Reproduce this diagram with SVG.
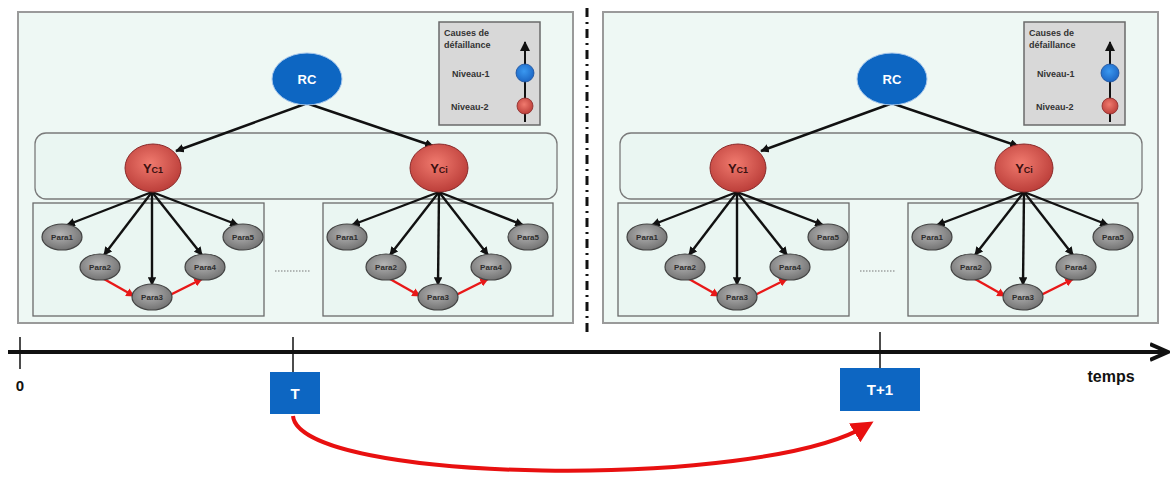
<svg xmlns="http://www.w3.org/2000/svg" width="1171" height="484" viewBox="0 0 1171 484">
<style>
.panel{fill:#eef8f4;stroke:#9a9a9a;stroke-width:2}
.ybox{fill:#eaf6f2;stroke:#7a7a7a;stroke-width:1.3}
.pbox{fill:#eaf6f2;stroke:#6a6a6a;stroke-width:1.3}
.rc{fill:#0d66c2;stroke:#a8c8ec;stroke-width:1}
.yn{fill:url(#gr);stroke:#8a2a2a;stroke-width:1}
.pn{fill:url(#gg);stroke:#444;stroke-width:1.2}
.edge{stroke:#111;stroke-width:2.4;fill:none;marker-end:url(#ah)}
.redge{stroke:#e81818;stroke-width:2.4;fill:none;marker-end:url(#rh)}
.t{font-family:"Liberation Sans",Arial,sans-serif;font-weight:bold}
.pt{font-family:"Liberation Sans",Arial,sans-serif;font-size:8px;font-weight:bold;fill:#2e2e2e;text-anchor:middle}
.leg{fill:#d8d8d8;stroke:#6a6a6a;stroke-width:1.5}
.lt{font-family:"Liberation Sans",Arial,sans-serif;font-size:9px;font-weight:bold;fill:#333}
.dots{stroke:#777;stroke-width:1;stroke-dasharray:1.5 1.5}
</style>
<defs>
<radialGradient id="gr" cx="0.45" cy="0.4" r="0.65"><stop offset="0" stop-color="#f07a6e"/><stop offset="1" stop-color="#b83a36"/></radialGradient>
<radialGradient id="gg" cx="0.45" cy="0.4" r="0.65"><stop offset="0" stop-color="#b4b4b4"/><stop offset="1" stop-color="#6e6e6e"/></radialGradient>
<radialGradient id="gb" cx="0.45" cy="0.4" r="0.65"><stop offset="0" stop-color="#3a98f0"/><stop offset="1" stop-color="#1a62c0"/></radialGradient>
<marker id="ah" viewBox="0 0 10 10" refX="9" refY="5" markerWidth="3.6" markerHeight="3.6" orient="auto"><path d="M0,0 L10,5 L0,10 z" fill="#111"/></marker>
<marker id="lg" viewBox="0 0 10 10" refX="9" refY="5" markerWidth="5" markerHeight="5" orient="auto"><path d="M0,0 L10,5 L0,10 z" fill="#111"/></marker>
<marker id="rh" viewBox="0 0 10 10" refX="9" refY="5" markerWidth="3.6" markerHeight="3.6" orient="auto"><path d="M0,0 L10,5 L0,10 z" fill="#e81818"/></marker>
<marker id="big" viewBox="0 0 10 10" refX="6" refY="5" markerWidth="5.5" markerHeight="5.5" orient="auto"><path d="M0,0 L10,5 L0,10 z" fill="#e81010"/></marker>
<marker id="lah" viewBox="0 0 10 10" refX="8" refY="5" markerWidth="5" markerHeight="5" orient="auto"><path d="M0,1 L9,5 L0,9" fill="none" stroke="#111" stroke-width="2"/></marker>
</defs>

<rect x="0" y="0" width="1171" height="484" fill="#ffffff"/>

<g id="panel-T">
<rect class="panel" x="18" y="12" width="555" height="311"/>
<rect class="ybox" x="35" y="133" width="522" height="66" rx="11"/>
<rect class="pbox" x="33" y="203" width="231" height="113"/>
<rect class="pbox" x="323" y="203" width="230" height="113"/>
<line class="dots" x1="275" y1="271" x2="310" y2="271"/>
</g>
<g id="panel-T1">
<rect class="panel" x="603" y="12" width="555" height="311"/>
<rect class="ybox" x="620" y="133" width="522" height="66" rx="11"/>
<rect class="pbox" x="618" y="203" width="231" height="113"/>
<rect class="pbox" x="908" y="203" width="230" height="113"/>
<line class="dots" x1="860" y1="271" x2="895" y2="271"/>
</g>

<g id="divider"><line x1="587" y1="8" x2="587" y2="332" stroke="#111" stroke-width="3" stroke-dasharray="9 5 2 5"/></g>

<g id="connectors">
<g id="conn-T">
<line class="edge" x1="305" y1="104" x2="176" y2="151"/>
<line class="edge" x1="309" y1="104" x2="433" y2="146"/>
<line class="edge" x1="152" y1="192" x2="67" y2="225"/>
<line class="edge" x1="152" y1="192" x2="104" y2="255"/>
<line class="edge" x1="152" y1="192" x2="152" y2="285"/>
<line class="edge" x1="152" y1="192" x2="202" y2="255"/>
<line class="edge" x1="152" y1="192" x2="238" y2="225"/>
<line class="redge" x1="104" y1="279" x2="134" y2="296"/>
<line class="redge" x1="170" y1="295" x2="202" y2="279"/>
<line class="edge" x1="439" y1="192" x2="352" y2="225"/>
<line class="edge" x1="439" y1="192" x2="390" y2="255"/>
<line class="edge" x1="439" y1="192" x2="438" y2="285"/>
<line class="edge" x1="439" y1="192" x2="488" y2="255"/>
<line class="edge" x1="439" y1="192" x2="523" y2="225"/>
<line class="redge" x1="390" y1="279" x2="420" y2="296"/>
<line class="redge" x1="456" y1="295" x2="488" y2="279"/>
</g>
<g id="conn-T1" transform="translate(585,0)">
<line class="edge" x1="305" y1="104" x2="176" y2="151"/>
<line class="edge" x1="309" y1="104" x2="433" y2="146"/>
<line class="edge" x1="152" y1="192" x2="67" y2="225"/>
<line class="edge" x1="152" y1="192" x2="104" y2="255"/>
<line class="edge" x1="152" y1="192" x2="152" y2="285"/>
<line class="edge" x1="152" y1="192" x2="202" y2="255"/>
<line class="edge" x1="152" y1="192" x2="238" y2="225"/>
<line class="redge" x1="104" y1="279" x2="134" y2="296"/>
<line class="redge" x1="170" y1="295" x2="202" y2="279"/>
<line class="edge" x1="439" y1="192" x2="352" y2="225"/>
<line class="edge" x1="439" y1="192" x2="390" y2="255"/>
<line class="edge" x1="439" y1="192" x2="438" y2="285"/>
<line class="edge" x1="439" y1="192" x2="488" y2="255"/>
<line class="edge" x1="439" y1="192" x2="523" y2="225"/>
<line class="redge" x1="390" y1="279" x2="420" y2="296"/>
<line class="redge" x1="456" y1="295" x2="488" y2="279"/>
</g>
<g id="timeline">
<line x1="8" y1="352" x2="1166" y2="352" stroke="#111" stroke-width="4" marker-end="url(#lah)"/>
<line x1="20" y1="337" x2="20" y2="369" stroke="#111" stroke-width="1.5"/>
<line x1="293" y1="337" x2="293" y2="372" stroke="#111" stroke-width="1.5"/>
<line x1="880" y1="332" x2="880" y2="368" stroke="#111" stroke-width="1.5"/>
</g>
<path id="time-arrow" d="M293,416 C300,484 760,490 866,426" fill="none" stroke="#e81010" stroke-width="4" marker-end="url(#big)"/>
</g>

<g id="rc-T"><ellipse class="rc" cx="307" cy="79" rx="35" ry="26"/><text class="t" x="307" y="84" font-size="13" fill="#fff" text-anchor="middle">RC</text></g>
<g id="yc1-T"><ellipse class="yn" cx="153" cy="168" rx="28" ry="24"/><text class="t" x="153" y="173" font-size="13" fill="#3a1010" text-anchor="middle">Y<tspan font-size="9">C1</tspan></text></g>
<g id="yci-T"><ellipse class="yn" cx="439" cy="168" rx="29" ry="24"/><text class="t" x="439" y="173" font-size="13" fill="#3a1010" text-anchor="middle">Y<tspan font-size="9">Ci</tspan></text></g>
<g id="p1a-T"><ellipse class="pn" cx="62" cy="237" rx="20" ry="13"/><text class="pt" x="62" y="240">Para1</text></g>
<g id="p2a-T"><ellipse class="pn" cx="100" cy="267" rx="20" ry="13"/><text class="pt" x="100" y="270">Para2</text></g>
<g id="p3a-T"><ellipse class="pn" cx="152" cy="297" rx="20" ry="13"/><text class="pt" x="152" y="300">Para3</text></g>
<g id="p4a-T"><ellipse class="pn" cx="205" cy="267" rx="20" ry="13"/><text class="pt" x="205" y="270">Para4</text></g>
<g id="p5a-T"><ellipse class="pn" cx="243" cy="237" rx="20" ry="13"/><text class="pt" x="243" y="240">Para5</text></g>
<g id="p1b-T"><ellipse class="pn" cx="347" cy="237" rx="20" ry="13"/><text class="pt" x="347" y="240">Para1</text></g>
<g id="p2b-T"><ellipse class="pn" cx="386" cy="267" rx="20" ry="13"/><text class="pt" x="386" y="270">Para2</text></g>
<g id="p3b-T"><ellipse class="pn" cx="438" cy="297" rx="20" ry="13"/><text class="pt" x="438" y="300">Para3</text></g>
<g id="p4b-T"><ellipse class="pn" cx="491" cy="267" rx="20" ry="13"/><text class="pt" x="491" y="270">Para4</text></g>
<g id="p5b-T"><ellipse class="pn" cx="528" cy="237" rx="20" ry="13"/><text class="pt" x="528" y="240">Para5</text></g>
<g id="legend-T">
<rect class="leg" x="439" y="22" width="101" height="103"/>
<text class="lt" x="444" y="36">Causes de</text>
<text class="lt" x="444" y="48">défaillance</text>
<line x1="525" y1="122" x2="525" y2="42" stroke="#111" stroke-width="2" marker-end="url(#lg)"/>
<circle cx="525" cy="73" r="9" fill="url(#gb)" stroke="#1a4f9a" stroke-width="0.8"/>
<circle cx="525" cy="106" r="8" fill="url(#gr)" stroke="#8a2a2a" stroke-width="0.8"/>
<text class="lt" x="452" y="77">Niveau-1</text>
<text class="lt" x="451" y="110">Niveau-2</text>
</g>

<g id="rc-T1"><ellipse class="rc" cx="892" cy="79" rx="35" ry="26"/><text class="t" x="892" y="84" font-size="13" fill="#fff" text-anchor="middle">RC</text></g>
<g id="yc1-T1"><ellipse class="yn" cx="738" cy="168" rx="28" ry="24"/><text class="t" x="738" y="173" font-size="13" fill="#3a1010" text-anchor="middle">Y<tspan font-size="9">C1</tspan></text></g>
<g id="yci-T1"><ellipse class="yn" cx="1024" cy="168" rx="29" ry="24"/><text class="t" x="1024" y="173" font-size="13" fill="#3a1010" text-anchor="middle">Y<tspan font-size="9">Ci</tspan></text></g>
<g id="p1a-T1"><ellipse class="pn" cx="647" cy="237" rx="20" ry="13"/><text class="pt" x="647" y="240">Para1</text></g>
<g id="p2a-T1"><ellipse class="pn" cx="685" cy="267" rx="20" ry="13"/><text class="pt" x="685" y="270">Para2</text></g>
<g id="p3a-T1"><ellipse class="pn" cx="737" cy="297" rx="20" ry="13"/><text class="pt" x="737" y="300">Para3</text></g>
<g id="p4a-T1"><ellipse class="pn" cx="790" cy="267" rx="20" ry="13"/><text class="pt" x="790" y="270">Para4</text></g>
<g id="p5a-T1"><ellipse class="pn" cx="828" cy="237" rx="20" ry="13"/><text class="pt" x="828" y="240">Para5</text></g>
<g id="p1b-T1"><ellipse class="pn" cx="932" cy="237" rx="20" ry="13"/><text class="pt" x="932" y="240">Para1</text></g>
<g id="p2b-T1"><ellipse class="pn" cx="971" cy="267" rx="20" ry="13"/><text class="pt" x="971" y="270">Para2</text></g>
<g id="p3b-T1"><ellipse class="pn" cx="1023" cy="297" rx="20" ry="13"/><text class="pt" x="1023" y="300">Para3</text></g>
<g id="p4b-T1"><ellipse class="pn" cx="1076" cy="267" rx="20" ry="13"/><text class="pt" x="1076" y="270">Para4</text></g>
<g id="p5b-T1"><ellipse class="pn" cx="1113" cy="237" rx="20" ry="13"/><text class="pt" x="1113" y="240">Para5</text></g>
<g id="legend-T1">
<rect class="leg" x="1024" y="22" width="101" height="103"/>
<text class="lt" x="1029" y="36">Causes de</text>
<text class="lt" x="1029" y="48">défaillance</text>
<line x1="1110" y1="122" x2="1110" y2="42" stroke="#111" stroke-width="2" marker-end="url(#lg)"/>
<circle cx="1110" cy="73" r="9" fill="url(#gb)" stroke="#1a4f9a" stroke-width="0.8"/>
<circle cx="1110" cy="106" r="8" fill="url(#gr)" stroke="#8a2a2a" stroke-width="0.8"/>
<text class="lt" x="1037" y="77">Niveau-1</text>
<text class="lt" x="1036" y="110">Niveau-2</text>
</g>

<g id="label-0"><text class="t" x="20" y="391" font-size="15" fill="#111" text-anchor="middle">0</text></g>
<g id="box-T"><rect x="270" y="372" width="50" height="42" fill="#0d66c2"/><text class="t" x="295" y="399" font-size="15" fill="#fff" text-anchor="middle">T</text></g>
<g id="box-T1"><rect x="840" y="368" width="80" height="43" fill="#0d66c2"/><text class="t" x="880" y="395" font-size="15" fill="#fff" text-anchor="middle">T+1</text></g>
<g id="label-temps"><text class="t" x="1111" y="382" font-size="16" fill="#111" text-anchor="middle">temps</text></g>
</svg>
